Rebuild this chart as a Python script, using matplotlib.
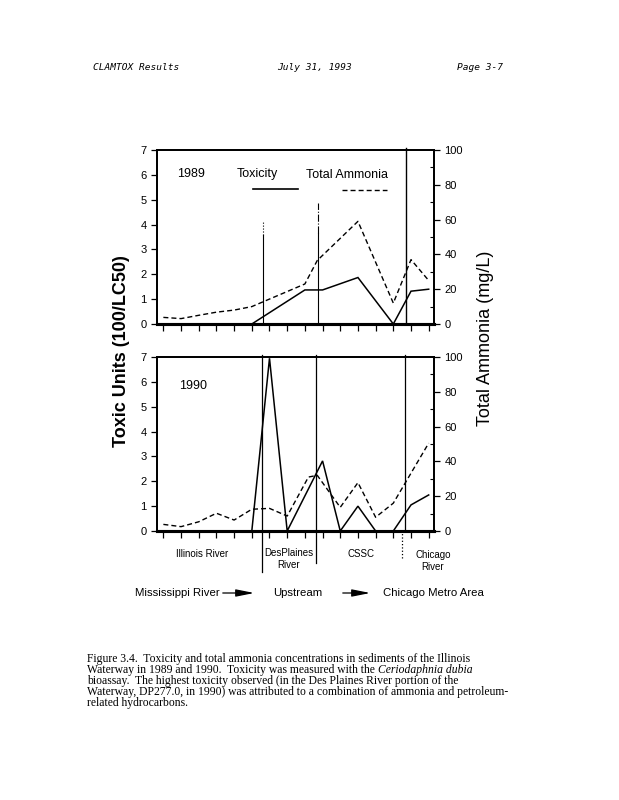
import matplotlib
matplotlib.use('Agg')
import matplotlib.pyplot as plt
from matplotlib.lines import Line2D
from matplotlib.patches import FancyArrowPatch

plt.rcParams['font.family'] = ['Liberation Sans', 'DejaVu Sans']

# ---------------- data ----------------
stations = list(range(16))                 # sampling stations (tick marks)

tox89_x = [0, 5, 8, 9, 11, 13, 14, 15]
tox89 = [0, 0, 1.37, 1.37, 1.87, 0, 1.32, 1.40]
amm89_x = [0, 1, 2, 3, 4, 5, 8, 8.7, 11, 13, 14, 15]
amm89 = [3.8, 3.1, 5.0, 6.8, 8.0, 10.0, 23.0, 36.5, 59.0, 12.0, 37.0, 25.0]

tox90_x = [0, 5, 6, 7, 9, 10, 11, 12, 13, 14, 15]
tox90 = [0, 0, 6.95, 0, 2.82, 0, 1.0, 0, 0, 1.05, 1.45]
amm90_x = [0, 1, 2, 3, 4, 5, 6, 7, 8.2, 8.7, 10, 11, 12, 13, 15]
amm90 = [3.8, 2.5, 5.3, 10.2, 6.3, 12.5, 13.0, 8.6, 31.0, 32.0, 13.6, 27.8, 7.9, 16.0, 50.5]

bounds89 = [5.64, 8.72, 13.74]             # river segment boundaries
bounds90 = [5.55, 8.64, 13.64]

tox_ticks = [0, 1, 2, 3, 4, 5, 6, 7]
amm_ticks = [0, 20, 40, 60, 80, 100]

segments = ['Illinois River', 'DesPlaines\nRiver', 'CSSC', 'Chicago\nRiver']

caption_plain = [
    "Figure 3.4.  Toxicity and total ammonia concentrations in sediments of the Illinois",
    "Waterway in 1989 and 1990.  Toxicity was measured with the ",
    "bioassay.  The highest toxicity observed (in the Des Plaines River portion of the",
    "Waterway, DP277.0, in 1990) was attributed to a combination of ammonia and petroleum-",
    "related hydrocarbons.",
]
caption_italic = "Ceriodaphnia dubia"

# ---------------- layout helpers ----------------
W, H = 619, 800
fig = plt.figure(figsize=(6.19, 8.0), dpi=100)
fig.patch.set_facecolor('white')


def fx(x):
    return x / W


def fy(y):
    return 1 - y / H


def make_axes(top_px, bottom_px):
    left, right = 157, 434
    ax = fig.add_axes([fx(left), fy(bottom_px), (right - left) / W, (bottom_px - top_px) / H])
    ax.set_xlim(-0.36, 15.3)
    ax.set_ylim(0, 7)
    ax.set_xticks(stations)
    ax.set_xticklabels([])
    ax.set_yticks(tox_ticks)
    ax.tick_params(axis='y', direction='out', length=4.5, width=0.9, labelsize=8, pad=3)
    ax.tick_params(axis='x', direction='out', length=5, width=0.9)
    for s in ax.spines.values():
        s.set_linewidth(1.3)
    ax.spines['bottom'].set_linewidth(2.2)
    ax2 = ax.twinx()
    ax2.set_ylim(0, 100)
    ax2.set_yticks(amm_ticks)
    ax2.set_yticks([10, 30, 50, 70, 90], minor=True)
    ax2.tick_params(axis='y', which='major', direction='out', length=4.5, width=0.9, labelsize=8, pad=3)
    ax2.tick_params(axis='y', which='minor', direction='in', length=3, width=0.8)
    for s in ax2.spines.values():
        s.set_linewidth(1.3)
    ax2.spines['bottom'].set_linewidth(2.2)
    return ax, ax2


DASH = (3.6, 2.2)

# ---------------- 1989 panel ----------------
a1, b1 = make_axes(150, 324)
a1.plot(tox89_x, tox89, color='black', lw=1.1, solid_joinstyle='miter')
b1.plot(amm89_x, amm89, color='black', lw=1.0, dashes=DASH)
# segment boundaries
a1.plot([bounds89[0]] * 2, [0, 3.6], color='black', lw=0.8)
a1.plot([bounds89[0]] * 2, [3.6, 4.15], color='black', lw=0.8, ls=':')
a1.plot([bounds89[1]] * 2, [0, 3.65], color='black', lw=0.8)
a1.plot([bounds89[1]] * 2, [3.65, 4.85], color='black', lw=0.8, ls='-.')
a1.plot([bounds89[2]] * 2, [0, 7.1], color='black', lw=1.0, clip_on=False)

fig.text(fx(191), fy(174), '1989', ha='center', va='center', fontsize=9)
fig.text(fx(257.5), fy(174), 'Toxicity', ha='center', va='center', fontsize=9)
fig.text(fx(346.7), fy(175), 'Total Ammonia', ha='center', va='center', fontsize=9)
fig.add_artist(Line2D([fx(253), fx(298)], [fy(189), fy(189)], color='black', lw=1.2))
fig.add_artist(Line2D([fx(342), fx(387)], [fy(190), fy(190)], color='black', lw=1.0, dashes=DASH))

# ---------------- 1990 panel ----------------
a2, b2 = make_axes(357, 531)
a2.plot(tox90_x, tox90, color='black', lw=1.1, solid_joinstyle='miter')
b2.plot(amm90_x, amm90, color='black', lw=1.0, dashes=DASH)
a2.plot([bounds90[0]] * 2, [-1.65, 7.1], color='black', lw=0.9, clip_on=False)
a2.plot([bounds90[1]] * 2, [-1.3, 7.1], color='black', lw=0.9, clip_on=False)
a2.plot([bounds90[2]] * 2, [0, 7.1], color='black', lw=0.9, clip_on=False)
a2.plot([bounds90[2] - 0.15] * 2, [-1.1, 0], color='black', lw=0.9, ls=':', clip_on=False)

fig.text(fx(193), fy(386), '1990', ha='center', va='center', fontsize=9)

# segment labels under the lower panel
seg_pos = [(202, 554), (289, 559), (361, 554), (433, 561)]
for name, (px, py) in zip(segments, seg_pos):
    fig.text(fx(px), fy(py), name, ha='center', va='center', fontsize=7, linespacing=1.25)

# axis titles
fig.text(fx(122), fy(351), 'Toxic Units (100/LC50)', rotation=90, ha='center', va='center',
         fontsize=13, fontweight='bold')
fig.text(fx(485), fy(338), 'Total Ammonia (mg/L)', rotation=90, ha='center', va='center',
         fontsize=13)

# direction row
fig.text(fx(135), fy(593), 'Mississippi River', ha='left', va='center', fontsize=8.2)
fig.text(fx(273), fy(593), 'Upstream', ha='left', va='center', fontsize=8.2)
fig.text(fx(383), fy(593), 'Chicago Metro Area', ha='left', va='center', fontsize=8.2)
for x0, x1 in [(220, 257), (340, 373)]:
    fig.add_artist(FancyArrowPatch((fx(x0), fy(593)), (fx(x1), fy(593)), transform=fig.transFigure,
                                   arrowstyle='-|>,head_length=1.1,head_width=0.22',
                                   mutation_scale=10, lw=0.9, color='black'))

# page header
hdr = dict(family='DejaVu Sans Mono', style='italic', fontsize=6.8, va='center', ha='left')
fig.text(fx(93), fy(67), 'CLAMTOX Results', **hdr)
fig.text(fx(277), fy(67), 'July 31, 1993', **hdr)
fig.text(fx(457), fy(67), 'Page 3-7', **hdr)

# caption
cap_font = dict(ha='left', va='baseline', fontsize=8.4, family='Liberation Serif')
fig.canvas.draw()
renderer = fig.canvas.get_renderer()
for i, line in enumerate(caption_plain):
    t = fig.text(fx(87), fy(662 + 11 * i), line, **cap_font)
    if i == 1:
        bb = t.get_window_extent(renderer=renderer)
        fig.text(bb.x1 / fig.bbox.width, fy(662 + 11 * i), caption_italic,
                 style='italic', **cap_font)

fig.savefig('out.png', dpi=100, facecolor='white')
